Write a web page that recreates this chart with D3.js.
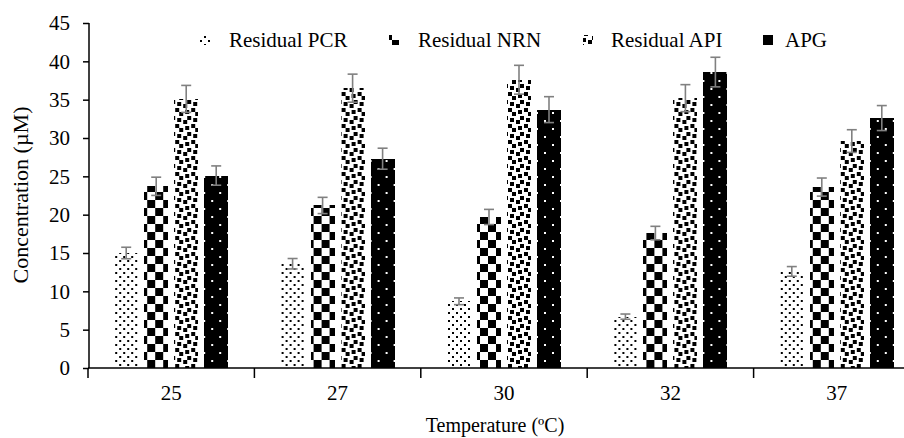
<!DOCTYPE html>
<html>
<head>
<meta charset="utf-8">
<script src="https://cdn.jsdelivr.net/npm/d3@7"></script>
<style>
  html, body { margin: 0; padding: 0; background: #fff; }
  svg { display: block; }
  text { font-family: "Liberation Serif", "Times New Roman", serif; fill: #000; }
</style>
</head>
<body>
<svg id="chart" width="904" height="438"></svg>
<script>
// Temperatures (ºC) on the category axis
const categories = ["25", "27", "30", "32", "37"];
const seriesNames = ["Residual PCR", "Residual NRN", "Residual API", "APG"];

// Concentrations (µM) per temperature
const pcr = [15.0, 13.6, 8.7, 6.7, 12.6];
const nrn = [23.7, 21.2, 19.7, 17.6, 23.6];
const api = [35.1, 36.5, 37.6, 35.2, 29.6];
const apg = [25.1, 27.3, 33.7, 38.6, 32.6];

// Error bar half-lengths (µM)
const pcrErr = [0.75, 0.68, 0.44, 0.34, 0.63];
const nrnErr = [1.19, 1.06, 0.99, 0.88, 1.18];
const apiErr = [1.76, 1.83, 1.88, 1.76, 1.48];
const apgErr = [1.26, 1.37, 1.69, 1.93, 1.63];

const yTicks = [0, 5, 10, 15, 20, 25, 30, 35, 40, 45];

const seriesValues = [pcr, nrn, api, apg];
const seriesErrors = [pcrErr, nrnErr, apiErr, apgErr];

const FONT = 21;
const svg = d3.select("#chart");

// ---- fill patterns (8x8 bitmaps drawn at 2x) ----
const patternDefs = [
  { id: "pat-pcr", bg: "#fff", fg: "#000", rows: [0x88, 0x00, 0x22, 0x00, 0x88, 0x00, 0x22, 0x00] },
  { id: "pat-nrn", bg: "#fff", fg: "#000", rows: [0xf0, 0xf0, 0xf0, 0xf0, 0x0f, 0x0f, 0x0f, 0x0f] },
  { id: "pat-api", bg: "#fff", fg: "#000", rows: [0x8d, 0x0c, 0xc0, 0xd8, 0x1b, 0x03, 0x30, 0xb1] },
  { id: "pat-apg", bg: "#000", fg: "#fff", rows: [0x80, 0x00, 0x00, 0x00, 0x08, 0x00, 0x00, 0x00] }
];
const px = 2;
const defs = svg.append("defs");
patternDefs.forEach(p => {
  const pat = defs.append("pattern")
    .attr("id", p.id)
    .attr("patternUnits", "userSpaceOnUse")
    .attr("width", 8 * px).attr("height", 8 * px);
  pat.append("rect").attr("width", 8 * px).attr("height", 8 * px).attr("fill", p.bg);
  const cells = [];
  p.rows.forEach((r, yi) => {
    for (let xi = 0; xi < 8; xi++) {
      if (r & (0x80 >> xi)) cells.push([xi, yi]);
    }
  });
  pat.selectAll("rect.c").data(cells).join("rect")
    .attr("class", "c")
    .attr("x", d => d[0] * px).attr("y", d => d[1] * px)
    .attr("width", px).attr("height", px)
    .attr("fill", p.fg)
    .attr("shape-rendering", "crispEdges");
});

// ---- scales ----
const x0 = d3.scaleBand().domain(categories).range([88, 920]).paddingInner(0).paddingOuter(0);
const x1 = d3.scaleBand().domain(seriesNames).range([-60, 60]).paddingInner(0.2).paddingOuter(0.1);
const y = d3.scaleLinear().domain([0, 45]).range([368, 23]);

// ---- bars ----
const groups = svg.append("g").selectAll("g")
  .data(categories)
  .join("g")
  .attr("transform", d => `translate(${x0(d) + x0.bandwidth() / 2},0)`);

groups.selectAll("rect")
  .data((c, i) => seriesNames.map((s, k) => ({ s, k, v: seriesValues[k][i] })))
  .join("rect")
  .attr("x", d => x1(d.s))
  .attr("y", d => y(d.v))
  .attr("width", x1.bandwidth())
  .attr("height", d => y(0) - y(d.v))
  .attr("fill", d => `url(#${patternDefs[d.k].id})`)
  .attr("shape-rendering", "crispEdges");

// ---- error bars ----
const errG = groups.selectAll("g.err")
  .data((c, i) => seriesNames.map((s, k) => ({ s, v: seriesValues[k][i], e: seriesErrors[k][i] })))
  .join("g")
  .attr("class", "err")
  .attr("transform", d => `translate(${x1(d.s) + x1.bandwidth() / 2},0)`)
  .attr("stroke", "#808080")
  .attr("stroke-width", 1.6);
errG.append("line").attr("x1", 0).attr("x2", 0).attr("y1", d => y(d.v + d.e)).attr("y2", d => y(d.v - d.e));
errG.append("line").attr("x1", -5).attr("x2", 5).attr("y1", d => y(d.v + d.e)).attr("y2", d => y(d.v + d.e));
errG.append("line").attr("x1", -5).attr("x2", 5).attr("y1", d => y(d.v - d.e)).attr("y2", d => y(d.v - d.e));

// ---- axes ----
const yAxis = d3.axisLeft(y).tickValues(yTicks).tickSize(6).tickPadding(13).tickFormat(d3.format("d"));
const yG = svg.append("g").attr("transform", "translate(89,0)").call(yAxis);
yG.select(".domain").attr("stroke-width", 1.5).attr("d", `M0,${y(45)}V${y(0)}`);
yG.selectAll(".tick line").attr("stroke-width", 1.5);
yG.selectAll(".tick text").style("font-size", FONT + "px").attr("font-family", "Liberation Serif");

// category axis: boundary ticks, labels centred in each band
const xG = svg.append("g").attr("transform", `translate(0,${y(0)})`);
xG.append("line").attr("x1", 88).attr("x2", 920).attr("y1", 0).attr("y2", 0)
  .attr("stroke", "#000").attr("stroke-width", 1.5);
xG.selectAll("line.b")
  .data(categories)
  .join("line")
  .attr("class", "b")
  .attr("x1", d => x0(d)).attr("x2", d => x0(d))
  .attr("y1", 0).attr("y2", 10)
  .attr("stroke", "#000").attr("stroke-width", 1.5);
xG.selectAll("text")
  .data(categories)
  .join("text")
  .attr("x", d => x0(d) + x0.bandwidth() / 2)
  .attr("y", 32)
  .attr("text-anchor", "middle")
  .style("font-size", FONT + "px")
  .text(d => d);

// ---- axis titles ----
svg.append("text")
  .attr("x", 495).attr("y", 432)
  .attr("text-anchor", "middle")
  .style("font-size", "20px")
  .text("Temperature (ºC)");
svg.append("text")
  .attr("transform", "translate(28,195) rotate(-90)")
  .attr("text-anchor", "middle")
  .style("font-size", "22px")
  .text("Concentration (µM)");

// ---- legend ----
const legendSymX = [200, 389, 583, 763];
const legendTextX = [229, 418, 611, 785];
const leg = svg.append("g").selectAll("g")
  .data(seriesNames)
  .join("g");
leg.append("rect")
  .attr("x", (d, i) => legendSymX[i]).attr("y", 35).attr("width", 10).attr("height", 10)
  .attr("fill", (d, i) => `url(#${patternDefs[i].id})`);
leg.append("text")
  .attr("x", (d, i) => legendTextX[i]).attr("y", 47)
  .style("font-size", FONT + "px")
  .text(d => d);
</script>
</body>
</html>
